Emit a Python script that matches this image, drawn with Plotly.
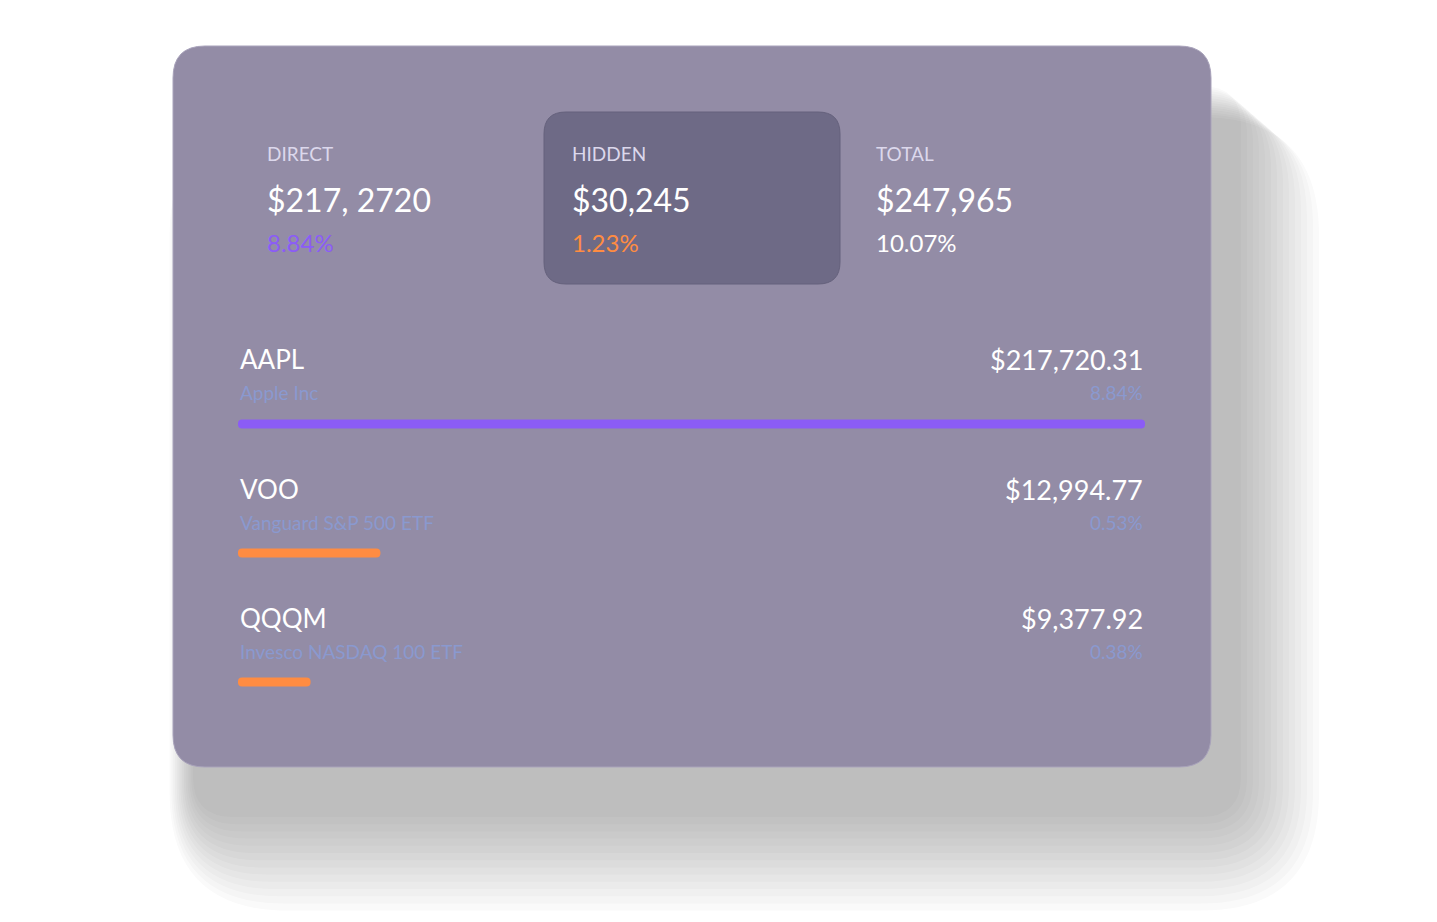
import plotly.graph_objects as go

# summary tiles
tile_labels = ["DIRECT", "HIDDEN", "TOTAL"]
tile_values = ["$217, 2720", "$30,245", "$247,965"]
tile_pcts = ["8.84%", "1.23%", "10.07%"]
tile_pct_colors = ["#8b5cf6", "#ff8c42", "#ffffff"]

# holdings
tickers = ["AAPL", "VOO", "QQQM"]
names = ["Apple Inc", "Vanguard S&P 500 ETF", "Invesco NASDAQ 100 ETF"]
amounts = ["$217,720.31", "$12,994.77", "$9,377.92"]
pcts = ["8.84%", "0.53%", "0.38%"]
bar_fraction = [1.0, 0.157, 0.080]
bar_colors = ["#8b5cf6", "#ff8c42", "#ff8c42"]

FONT = "Lato"
W, H = 1437, 922


def rrect(x0, y0, x1, y1, r):
    return (f"M{x0+r},{y0} L{x1-r},{y0} Q{x1},{y0} {x1},{y0+r} "
            f"L{x1},{y1-r} Q{x1},{y1} {x1-r},{y1} L{x0+r},{y1} "
            f"Q{x0},{y1} {x0},{y1-r} L{x0},{y0+r} Q{x0},{y0} {x0+r},{y0} Z")


shapes = []
# soft shadow
for i in range(14):
    g = i * 6
    shapes.append(dict(type="path", path=rrect(165 + 20 - g * 0.3, 38 + 40 + g * 0.4,
                                                1203 + 30 + g, 759 + 50 + g * 1.2, 40 + g),
                       fillcolor="rgba(60,60,60,0.025)", line_width=0, layer="below"))
shapes.append(dict(type="path", path=rrect(165, 38, 1203, 759, 32),
                   fillcolor="#938ca6", line=dict(color="#a9a3bb", width=1), layer="below"))
shapes.append(dict(type="path", path=rrect(536, 104, 832, 276, 22),
                   fillcolor="#6e6a86", line=dict(color="#65617c", width=1), layer="below"))

ann = []
tile_x = [257, 562, 866]
for i in range(3):
    ann.append(dict(x=tile_x[i], y=145, text=tile_labels[i], font=dict(size=19, color="#dcd8ec")))
    ann.append(dict(x=tile_x[i], y=191, text=tile_values[i], font=dict(size=32, color="#ffffff")))
    ann.append(dict(x=tile_x[i], y=234, text=tile_pcts[i], font=dict(size=24, color=tile_pct_colors[i])))

row_y = [351, 481, 610]
for i in range(3):
    y = row_y[i]
    ann.append(dict(x=230, y=y, text=tickers[i], font=dict(size=26, color="#ffffff")))
    ann.append(dict(x=230, y=y + 33, text=names[i], font=dict(size=19, color="#8a99cf")))
    ann.append(dict(x=1137, y=y, text=amounts[i], xanchor="right", font=dict(size=27, color="#ffffff")))
    ann.append(dict(x=1137, y=y + 33, text=pcts[i], xanchor="right", font=dict(size=19, color="#8a99cf")))
for a in ann:
    a.update(xref="x", yref="y", showarrow=False, yanchor="middle")
    a.setdefault("xanchor", "left")
    a["font"]["family"] = FONT

bar_y = [416, 545, 674]
full = 1137 - 230
fig = go.Figure(go.Bar(
    y=bar_y, x=[f * full for f in bar_fraction], base=230, orientation="h",
    width=9, marker=dict(color=bar_colors, line_width=0), hoverinfo="skip"))
fig.update_layout(
    width=W, height=H, margin=dict(l=0, r=0, t=0, b=0),
    paper_bgcolor="white", plot_bgcolor="rgba(0,0,0,0)", barcornerradius=5,
    xaxis=dict(range=[0, W], visible=False, fixedrange=True),
    yaxis=dict(range=[H, 0], visible=False, fixedrange=True),
    shapes=shapes, annotations=ann, showlegend=False,
)
fig.write_html("out.html", config={"displayModeBar": False})
